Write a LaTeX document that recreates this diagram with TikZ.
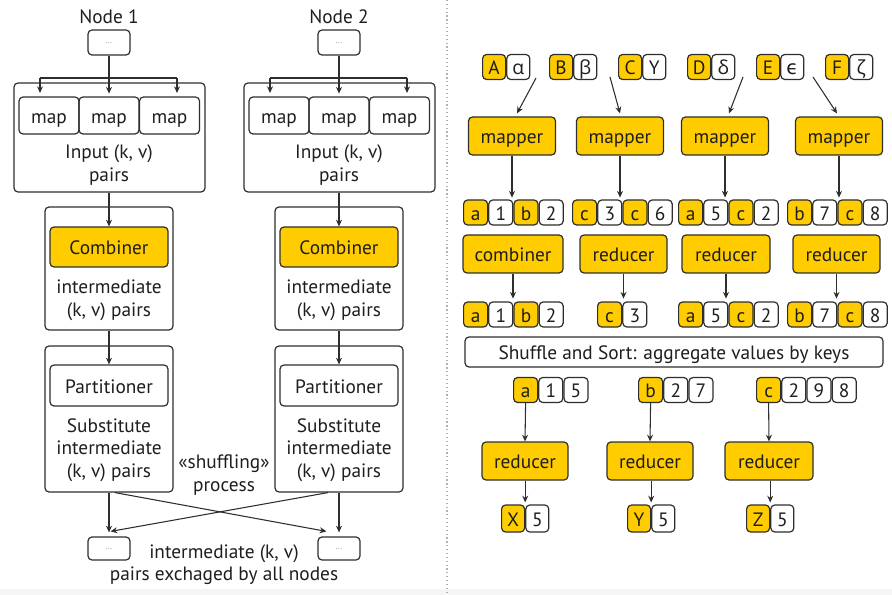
\documentclass[tikz,border=0pt]{standalone}
\usepackage{fontspec}
\setmainfont{PT Sans}
\newfontfamily\grk{Open Sans}
\newfontfamily\grkb{DejaVu Sans}
\usetikzlibrary{arrows.meta,calc}
\definecolor{yel}{HTML}{FFCC00}
\definecolor{ln}{HTML}{2E2E2E}
\definecolor{tx}{HTML}{1E1E1E}
\tikzset{
 every node/.style={font=\fontsize{14.5}{17}\selectfont, text=tx, align=center},
 box/.style={draw=ln, line width=0.9pt, rounded corners=3pt, inner sep=0pt, align=center, text height=11.5pt, text depth=0pt},
 ybox/.style={box, fill=yel},
 wbox/.style={box, fill=white},
 cell/.style={box, minimum width=18pt, minimum height=18.75pt},
 ycell/.style={cell, fill=yel},
 wcell/.style={cell, fill=white},
 ncell/.style={cell, minimum width=17.25pt},
 dots/.style={box, minimum width=31.5pt, minimum height=18.75pt, font=\fontsize{6}{6}\selectfont, text=gray, text height=1pt, text depth=0pt},
 arr/.style={draw=ln, line width=0.8pt, -{Stealth[length=5pt,width=4.5pt]}},
 plain/.style={draw=ln, line width=0.8pt},
 mapbox/.style={box, minimum width=45pt, minimum height=27.75pt},
 mapper/.style={ybox, minimum width=65.25pt, minimum height=28.5pt},
}
\begin{document}
\begin{tikzpicture}[x=0.75pt,y=-0.75pt]
\useasboundingbox (0,0) rectangle (892,595);
\fill[gray!8] (0,589) rectangle (892,595);
\draw[gray!60, dotted, line width=0.9pt] (447,0) -- (447,595);

% ---------------- left panel ----------------
\foreach \c/\k/\lab in {109/1/Node 1, 339/2/Node 2}{
  \node (n\k) at (\c,17) {\lab};
  \node[dots] (s\k) at (\c,42.5) {...};
  \node[box, minimum width=143.25pt, minimum height=81.75pt] (b\k) at (\c+0.5,137.5) {};
  \node[mapbox] (ma\k) at (\c-60,115.5) {map};
  \node[mapbox] (mb\k) at (\c,115.5) {map};
  \node[mapbox] (mc\k) at (\c+60.5,115.5) {map};
  \node (it\k) at (\c,165) {Input (k, v)\\pairs};
  \coordinate (bl\k) at (\c-69,78);
  \coordinate (br\k) at (\c+68,78);
  \draw[arr] (s\k.south) -- ++(0,38);
  \draw[plain] (bl\k) -- (br\k);
  \draw[arr] (bl\k) -- ++(0,15);
  \draw[arr] (br\k) -- ++(0,15);
  % combiner
  \node[box, minimum width=96pt, minimum height=92.25pt] (cb\k) at (\c,268.5) {};
  \node[ybox, minimum width=88.5pt, minimum height=30pt] (cy\k) at (\c,247) {Combiner};
  \node (ct\k) at (\c,300.5) {intermediate\\(k, v) pairs};
  \draw[arr] (b\k.south -| cy\k.north) -- (cy\k.north);
  % partitioner
  \node[box, minimum width=96pt, minimum height=109.5pt] (pb\k) at (\c,419) {};
  \node[wbox, minimum width=88.5pt, minimum height=30.75pt] (pp\k) at (\c,385.5) {Partitioner};
  \node (pt\k) at (\c,450) {Substitute\\intermediate\\(k, v) pairs};
  \draw[arr] (cb\k.south) -- (pp\k.north);
  % bottom
  \node[dots, minimum height=17.25pt] (e\k) at (\c,548.5) {...};
  \draw[arr] (pb\k.south) -- ($(e\k.north)+(0,-4)$);
}
\draw[arr] ($(pb1.south)+(6,0)$) -- ($(e2.north west)+(9,-5)$);
\draw[arr] ($(pb2.south)+(-11,0)$) -- ($(e1.north east)+(-20,-5)$);
\node (shuf) at (224,475) {«shuffling»\\process};
\node (exch) at (224,564.5) {intermediate (k, v)\\pairs exchaged by all nodes};

% ---------------- right panel ----------------
% row 1
\foreach \k/\x/\a/\b in {A/482/A/{\grk α}, B/549/B/{\grk β}, C/618/C/Y, D/687/D/{\grk δ}, E/756/E/{\grkb ϵ}, F/825/F/{\grk ζ}}{
  \node[ncell, fill=yel, anchor=west] (k\k) at (\x,67) {\a};
  \node[ncell, fill=white, anchor=west] (v\k) at (k\k.east) {\b};
}
\node[mapper] (mp1) at (512,136) {mapper};
\node[mapper] (mp2) at (620,136) {mapper};
\node[mapper] (mp3) at (725,136) {mapper};
\node[mapper] (mp4) at (839,136) {mapper};
\coordinate (f1) at (536,78);
\coordinate (f2) at (610,77);
\coordinate (f3) at (743,77);
\coordinate (f4) at (813,77);
\draw[arr] (f1) -- ($(mp1.north)+(5,-3)$);
\draw[arr] (f2) -- ($(mp2.north)+(0,-3)$);
\draw[arr] (f3) -- ($(mp3.north)+(4,-3)$);
\draw[arr] (f4) -- ($(mp4.north)+(-2,-3)$);

% row 2
\foreach \g/\x/\a/\b/\c/\d in {1/463/a/1/b/2, 2/572/c/3/c/6, 3/678/a/5/c/2, 4/787/b/7/c/8}{
  \node[ycell, anchor=west] (p\g a) at (\x,212.5) {\a};
  \node[wcell, anchor=west] (p\g b) at (p\g a.east) {\b};
  \node[ycell, anchor=west] (p\g c) at (p\g b.east) {\c};
  \node[wcell, anchor=west] (p\g d) at (p\g c.east) {\d};
}
\foreach \i in {1,2,3,4}{
  \draw[arr] (mp\i.south) -- ++(0,42);
}

% combiner / reducers
\node[ybox, minimum width=75pt, minimum height=28.5pt] (rc1) at (513,254) {combiner};
\node[ybox, minimum width=65.25pt, minimum height=28.5pt] (rc2) at (623.5,254) {reducer};
\node[ybox, minimum width=66pt, minimum height=28.5pt] (rc3) at (726,254) {reducer};
\node[ybox, minimum width=65.25pt, minimum height=28.5pt] (rc4) at (836.5,254) {reducer};
\foreach \i in {1,2,3,4}{
  \draw[arr] (rc\i.south) -- ++(0,25);
}

% row 3
\foreach \g/\x/\a/\b/\c/\d in {1/463/a/1/b/2, 3/678/a/5/c/2, 4/787/b/7/c/8}{
  \node[ycell, anchor=west] (q\g a) at (\x,314.5) {\a};
  \node[wcell, anchor=west] (q\g b) at (q\g a.east) {\b};
  \node[ycell, anchor=west] (q\g c) at (q\g b.east) {\c};
  \node[wcell, anchor=west] (q\g d) at (q\g c.east) {\d};
}
\node[ycell, anchor=west] (q2a) at (597,314.5) {c};
\node[wcell, anchor=west] (q2b) at (q2a.east) {3};

% shuffle
\node[wbox, minimum width=313.5pt, minimum height=22.5pt] (sh) at (674,352) {Shuffle and Sort: aggregate values by keys};

% row 4
\node[ycell, anchor=west] (ka) at (513,390) {a};
\node[wcell, anchor=west] (ka1) at (ka.east) {1};
\node[wcell, anchor=west] (ka2) at (ka1.east) {5};
\node[ycell, anchor=west] (kb) at (638,390) {b};
\node[wcell, anchor=west] (kb1) at (kb.east) {2};
\node[wcell, anchor=west] (kb2) at (kb1.east) {7};
\node[ycell, anchor=west] (kc) at (756,390) {c};
\node[wcell, anchor=west] (kc1) at (kc.east) {2};
\node[wcell, anchor=west] (kc2) at (kc1.east) {9};
\node[wcell, anchor=west] (kc3) at (kc2.east) {8};

\node[ybox, minimum width=64.5pt, minimum height=28.5pt] (fr1) at (525,461) {reducer};
\node[ybox, minimum width=64.5pt, minimum height=28.5pt] (fr2) at (650,461) {reducer};
\node[ybox, minimum width=66pt, minimum height=28.5pt] (fr3) at (769,461) {reducer};
\draw[arr] (ka.south) -- (fr1.north);
\draw[arr] (kb.south) -- (fr2.north);
\draw[arr] (kc.south) -- (fr3.north);

\foreach \k/\x/\a in {X/501/X, Y/627/Y, Z/746/Z}{
  \node[ncell, fill=yel, anchor=west, minimum height=20.25pt] (r\k) at (\x,518.5) {\a};
  \node[ncell, fill=white, anchor=west, minimum height=20.25pt] (r\k v) at (r\k.east) {5};
}
\draw[arr] (fr1.south -| rX.north east) -- ($(rX.north east)+(0,-2)$);
\draw[arr] (fr2.south -| rY.north east) -- ($(rY.north east)+(0,-2)$);
\draw[arr] (fr3.south -| rZ.north east) -- ($(rZ.north east)+(0,-2)$);
\end{tikzpicture}
\end{document}
